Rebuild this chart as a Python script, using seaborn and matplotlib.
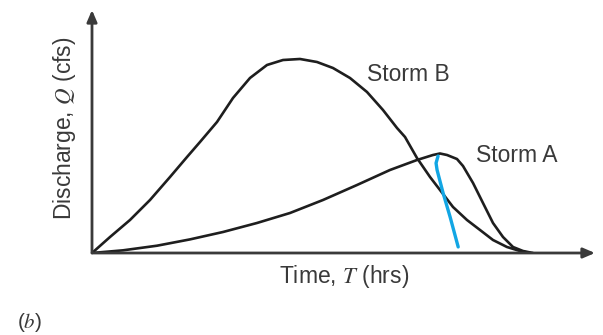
import matplotlib
matplotlib.use("Agg")
import matplotlib.pyplot as plt
import seaborn as sns
import pandas as pd

# curves (arbitrary units, no ticks in the original)
storm_b_t = [0.000, 0.358, 0.755, 1.153, 1.551, 1.889, 2.147, 2.485, 2.803, 3.141, 3.479,
             3.797, 4.135, 4.473, 4.791, 5.129, 5.467, 5.785, 6.064, 6.223, 6.461, 6.720,
             6.918, 7.177, 7.455, 7.714, 7.972, 8.250, 8.509, 8.708]
storm_b_q = [0.000, 0.658, 1.358, 2.181, 3.128, 3.951, 4.568, 5.391, 6.379, 7.202, 7.737,
             7.942, 7.984, 7.860, 7.613, 7.202, 6.626, 5.885, 5.144, 4.774, 3.909, 3.128,
             2.593, 1.893, 1.358, 0.947, 0.535, 0.247, 0.082, 0.000]

storm_a_t = [0.000, 0.616, 1.292, 1.948, 2.604, 3.280, 3.936, 4.592, 5.268, 5.924, 6.461,
             6.779, 6.918, 7.058, 7.256, 7.376, 7.575, 7.773, 7.972, 8.171, 8.370, 8.569, 8.767]
storm_a_q = [0.000, 0.110, 0.300, 0.560, 0.864, 1.235, 1.646, 2.181, 2.798, 3.416, 3.827,
             4.033, 4.095, 4.033, 3.868, 3.580, 2.881, 2.058, 1.235, 0.658, 0.247, 0.082, 0.000]

# hand drawn blue stroke
pen_t = [6.88, 6.84, 6.86, 6.98, 7.12, 7.28]
pen_q = [3.99, 3.70, 3.42, 2.47, 1.48, 0.25]

sns.set_style("white")
plt.rcParams["font.family"] = ["Liberation Sans", "DejaVu Sans"]
plt.rcParams["mathtext.fontset"] = "stix"

fig = plt.figure(figsize=(6.03, 3.35), dpi=100)
ax = fig.add_axes([92 / 603, 82 / 335, 503 / 603, 243 / 335])

df_b = pd.DataFrame({"t": storm_b_t, "q": storm_b_q})
df_a = pd.DataFrame({"t": storm_a_t, "q": storm_a_q})
df_pen = pd.DataFrame({"t": pen_t, "q": pen_q})

sns.lineplot(data=df_b, x="t", y="q", sort=False, estimator=None, color="#1e1e1e", lw=1.9, ax=ax)
sns.lineplot(data=df_a, x="t", y="q", sort=False, estimator=None, color="#1e1e1e", lw=1.9, ax=ax)
sns.lineplot(data=df_pen, x="t", y="q", sort=False, estimator=None, color="#12a6e4", lw=2.4, ax=ax)

ax.set_xlim(0, 10)
ax.set_ylim(0, 10)
for s in ax.spines.values():
    s.set_visible(False)
ax.set_xticks([])
ax.set_yticks([])
ax.set_xlabel("")
ax.set_ylabel("")

arrow = dict(arrowstyle="-|>,head_length=0.7,head_width=0.3", color="#3a3a3a", lw=2.0, shrinkA=0, shrinkB=0)
ax.annotate("", xy=(10.0, 0), xytext=(0, 0), arrowprops=arrow, annotation_clip=False)
ax.annotate("", xy=(0, 10.0), xytext=(0, 0), arrowprops=arrow, annotation_clip=False)

txt = dict(color="#3a3a3a", fontsize=16.5)
ax.text(6.28, 7.33, "Storm B", ha="center", va="center", **txt)
ax.text(8.45, 4.03, "Storm A", ha="center", va="center", **txt)

fig.text(344 / 603, 1 - 276 / 335, r"Time, $T$ (hrs)", ha="center", va="center", **txt)
fig.text(64 / 603, 1 - 128 / 335, r"Discharge, $Q$ (cfs)", ha="center", va="center", rotation=90, **txt)
fig.text(30 / 603, 1 - 323 / 335, r"($b$)", ha="center", va="center", color="#3a3a3a", fontsize=15)

fig.savefig("out.png", dpi=100)
